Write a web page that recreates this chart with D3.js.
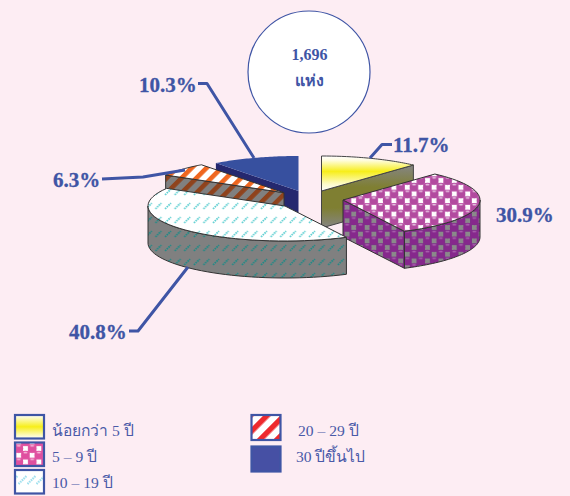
<!DOCTYPE html>
<html><head><meta charset="utf-8">
<script src="https://cdn.jsdelivr.net/npm/d3@7"></script>
<style>html,body{margin:0;padding:0;background:#fdedf3;overflow:hidden}svg{display:block}</style>
</head><body><div id="c"></div>
<script>
const categories = ["น้อยกว่า 5 ปี","5 – 9 ปี","10 – 19 ปี","20 – 29 ปี","30 ปีขึ้นไป"];
const shares = [11.7,30.9,40.8,6.3,10.3];
const valueLabels = ["11.7%","30.9%","40.8%","6.3%","10.3%"];
const totalLines = ["1,696","แห่ง"];

const W=570,H=496,RX=137,RY=35,DEPTH=37;
const BLUE="#3f55a5", SERIF="'Liberation Serif','Noto Sans','DejaVu Serif',serif";
const apexes=[[321.5,191],[343,200],[285,206],[284,192.7],[298.5,191]];
const labelPos=[[393,152],[496,222],[69,339],[53,187],[139,92]];
const leaders=[[[370,158],[382,144.5],[392,144.5]],null,[[188,267],[138,331],[129,331]],[[185,170],[143,177],[102,179]],[[254,158],[207,83.5],[198,83.5]]];
const legendPos=[[15,415,52,436],[15,442.5,52,462],[15,470,52,488],[251.5,415,298,436],[251.5,446.5,296,462]];
const drawOrder=[4,3,0,1,2];

const svg=d3.select("#c").append("svg").attr("width",W).attr("height",H);
svg.append("rect").attr("width",W).attr("height",H).attr("fill","#fdedf3");
const defs=svg.append("defs");

function grad(id,y1,y2,stops,units){
  const g=defs.append("linearGradient").attr("id",id).attr("x1",0).attr("x2",0);
  if(units) g.attr("gradientUnits","userSpaceOnUse").attr("y1",y1).attr("y2",y2); else g.attr("y1",0).attr("y2",1);
  stops.forEach(s=>g.append("stop").attr("offset",s[0]).attr("stop-color",s[1]));
}
grad("yTop",156,191,[[0,"#ffffff"],[.12,"#fffde0"],[.44,"#f7ee1a"],[.8,"#fdfbc8"],[1,"#ffffff"]],true);
grad("ySide",165,228,[[0,"#858585"],[.35,"#7f7f32"],[.68,"#7f7f32"],[1,"#858585"]],true);
grad("yLeg",0,1,[[0,"#ffffff"],[.5,"#f7ee1a"],[1,"#ffffff"]],false);

function checks(id,bg,circ,hi,sq){
  const P=13.4,p=defs.append("pattern").attr("id",id).attr("patternUnits","userSpaceOnUse").attr("width",P).attr("height",P).attr("x",2).attr("y",3);
  p.append("rect").attr("width",P).attr("height",P).attr("fill",bg);
  [[3*P/4,P/4],[P/4,3*P/4]].forEach(c=>p.append("rect").attr("x",c[0]-2.4).attr("y",c[1]-2.4).attr("width",4.8).attr("height",4.8).attr("fill",sq));
  [[P/4,P/4],[3*P/4,3*P/4]].forEach(c=>{
    p.append("circle").attr("cx",c[0]).attr("cy",c[1]).attr("r",4.5).attr("fill",circ);
    p.append("ellipse").attr("cx",c[0]).attr("cy",c[1]-2.7).attr("rx",2).attr("ry",.8).attr("fill",hi);
  });
}
checks("mTop","#c25fae","#b24a9f","#e6bfe0","#ffffff");
checks("mSide","#7d2f88","#86288c","#a860ad","#8a8a8a");
checks("mLeg","#e05aa4","#df4f9f","#f5b5d8","#ffffff");

function dashes(id,bg,col,w,h,len,sw){
  const p=defs.append("pattern").attr("id",id).attr("patternUnits","userSpaceOnUse").attr("width",w).attr("height",h).attr("y",3);
  p.append("rect").attr("width",w).attr("height",h).attr("fill",bg);
  p.append("line").attr("x1",w/2-len).attr("y1",h/2+len).attr("x2",w/2+len).attr("y2",h/2-len)
    .attr("stroke",col).attr("stroke-width",sw).attr("stroke-dasharray","1.6 .8");
}
dashes("cTop","#ffffff","#5fd0d2",9.6,14,2.9,1.8);
dashes("cSide","#808080","#1f8a86",9.6,14,2.9,1.8);
dashes("cLeg","#ffffff","#9fe0ee",9,18,4,2.2);

function stripes(id,bg,col,per,wd){
  const p=defs.append("pattern").attr("id",id).attr("patternUnits","userSpaceOnUse").attr("width",per).attr("height",per).attr("patternTransform","rotate(45)");
  p.append("rect").attr("width",per).attr("height",per).attr("fill",bg);
  p.append("rect").attr("width",wd).attr("height",per).attr("fill",col);
}
stripes("oTop","#ffffff","#ef661f",10.5,4.6);
stripes("oSide","#808080","#8f431d",10.5,4.6);
stripes("oLeg","#ffffff","#ee2a2e",12,5.5);

const topFill=["url(#yTop)","url(#mTop)","url(#cTop)","url(#oTop)","#37509f"];
const sideFill=["url(#ySide)","url(#mSide)","url(#cSide)","url(#oSide)","#25286f"];
const legFill=["url(#yLeg)","url(#mLeg)","url(#cLeg)","url(#oLeg)","#4650a4"];
const edge=["#444","#333","#333","#333","none"];

const arcs=d3.pie().sort(null).value(d=>d).startAngle(0).endAngle(2*Math.PI)(shares);
const line=d3.line();
const pt=(ap,a,dz=0)=>[ap[0]+RX*Math.sin(a),ap[1]-RY*Math.cos(a)+dz];
const arcPts=(ap,a0,a1,dz=0)=>d3.range(0,41).map(i=>pt(ap,a0+(a1-a0)*i/40,dz));
const g=svg.append("g");

drawOrder.forEach(i=>{
  const a=arcs[i],ap=apexes[i],s=a.startAngle,e=a.endAngle;
  const face=(pts)=>g.append("path").attr("d",line(pts)+"Z").attr("fill",sideFill[i])
     .attr("stroke",edge[i]==="none"?"none":edge[i]).attr("stroke-width",1).attr("stroke-linejoin","round");
  if(Math.sin(s)<-1e-6){const q=pt(ap,s);face([ap,q,[q[0],q[1]+DEPTH],[ap[0],ap[1]+DEPTH]]);}
  if(Math.sin(e)>1e-6){const q=pt(ap,e);face([ap,q,[q[0],q[1]+DEPTH],[ap[0],ap[1]+DEPTH]]);}
  const f0=Math.max(s,Math.PI/2),f1=Math.min(e,3*Math.PI/2);
  if(f1>f0) face(arcPts(ap,f0,f1).concat(arcPts(ap,f1,f0,DEPTH)));
  g.append("path").attr("d",line([ap].concat(arcPts(ap,s,e)))+"Z").attr("fill",topFill[i])
    .attr("stroke",edge[i]).attr("stroke-width",1).attr("stroke-linejoin","round");
});

leaders.forEach(l=>{ if(l) svg.append("path").attr("d",line(l)).attr("fill","none").attr("stroke",BLUE).attr("stroke-width",3).attr("stroke-linejoin","round");});
valueLabels.forEach((t,i)=>svg.append("text").attr("x",labelPos[i][0]).attr("y",labelPos[i][1]).text(t)
  .attr("font-family",SERIF).attr("font-weight","bold").attr("font-size",21).attr("fill",BLUE).attr("stroke",BLUE).attr("stroke-width",.3));

svg.append("circle").attr("cx",309).attr("cy",72).attr("r",61).attr("fill","#fff").attr("stroke",BLUE).attr("stroke-width",1.2);
totalLines.forEach((t,i)=>svg.append("text").attr("x",309.5).attr("y",60+i*26).attr("text-anchor","middle").text(t)
  .attr("font-family",SERIF).attr("font-weight","bold").attr("font-size",16).attr("fill",BLUE));

categories.forEach((t,i)=>{
  const p=legendPos[i];
  svg.append("rect").attr("x",p[0]).attr("y",p[1]).attr("width",29).attr("height",i>=3?25:23.5).attr("fill",legFill[i]).attr("stroke",BLUE).attr("stroke-width",2.2);
  svg.append("text").attr("x",p[2]).attr("y",p[3]).text(t).attr("font-family",SERIF).attr("font-size",15.6).attr("fill","#4a5aa8");
});
</script></body></html>
